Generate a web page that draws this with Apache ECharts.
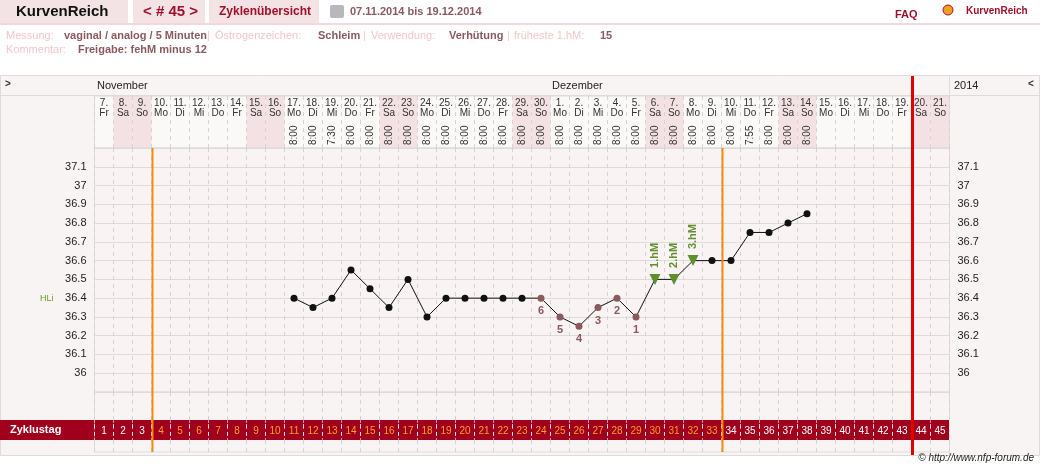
<!DOCTYPE html>
<html>
<head>
<meta charset="utf-8">
<script src="https://cdn.jsdelivr.net/npm/echarts@6/dist/echarts.min.js"></script>
<style>
  html, body { margin: 0; padding: 0; background: #fff; }
  #chart { width: 1040px; height: 469px; }
</style>
</head>
<body>
<div id="chart"></div>
<script>
// Kalendertage der Zyklusübersicht (07.11.2014 - 21.12.2014)
const dayNums = [7, 8, 9, 10, 11, 12, 13, 14, 15, 16, 17, 18, 19, 20, 21, 22, 23, 24, 25, 26, 27, 28, 29, 30,
    1, 2, 3, 4, 5, 6, 7, 8, 9, 10, 11, 12, 13, 14, 15, 16, 17, 18, 19, 20, 21];
const weekdays = ['Fr', 'Sa', 'So', 'Mo', 'Di', 'Mi', 'Do', 'Fr', 'Sa', 'So', 'Mo', 'Di', 'Mi', 'Do', 'Fr', 'Sa', 'So',
    'Mo', 'Di', 'Mi', 'Do', 'Fr', 'Sa', 'So', 'Mo', 'Di', 'Mi', 'Do', 'Fr', 'Sa', 'So', 'Mo', 'Di', 'Mi', 'Do', 'Fr',
    'Sa', 'So', 'Mo', 'Di', 'Mi', 'Do', 'Fr', 'Sa', 'So'];
const cycleDays = [1, 2, 3, 4, 5, 6, 7, 8, 9, 10, 11, 12, 13, 14, 15, 16, 17, 18, 19, 20, 21, 22, 23, 24, 25, 26, 27,
    28, 29, 30, 31, 32, 33, 34, 35, 36, 37, 38, 39, 40, 41, 42, 43, 44, 45];
const times = ['', '', '', '', '', '', '', '', '', '', '8:00', '8:00', '7:30', '8:00', '8:00', '8:00', '8:00', '8:00',
    '8:00', '8:00', '8:00', '8:00', '8:00', '8:00', '8:00', '8:00', '8:00', '8:00', '8:00', '8:00', '8:00', '8:00',
    '8:00', '8:00', '7:55', '8:00', '8:00', '8:00', '', '', '', '', '', '', ''];

// Temperaturen (Zyklustag 11 bis 38)
const tempDays = [11, 12, 13, 14, 15, 16, 17, 18, 19, 20, 21, 22, 23, 24, 25, 26, 27, 28, 29, 30, 31, 32, 33, 34, 35, 36, 37, 38];
const temps = [36.4, 36.35, 36.4, 36.55, 36.45, 36.35, 36.5, 36.3, 36.4, 36.4, 36.4, 36.4, 36.4, 36.4, 36.3, 36.25,
    36.35, 36.4, 36.3, 36.5, 36.5, 36.6, 36.6, 36.6, 36.75, 36.75, 36.8, 36.85];
const lowDays = [24, 25, 26, 27, 28, 29];
const lowLabels = ['6', '5', '4', '3', '2', '1'];
const hmDays = [30, 31, 32];
const hmLabels = ['1.hM', '2.hM', '3.hM'];
const hli = 36.4;
const coverlineDays = [3, 33];   // orange Linien nach Tag
const todayLine = 43;            // rote Linie nach Tag

const FONT = 'Liberation Sans, Arial, sans-serif';
const chart = echarts.init(document.getElementById('chart'));

const pointData = tempDays.map((d, i) => {
    const li = lowDays.indexOf(d);
    const hi = hmDays.indexOf(d);
    const item = { value: [d - 0.5, temps[i]] };
    if (li >= 0) {
        item.itemStyle = { color: '#8a5a5e' };
        item.label = { show: true, position: 'bottom', distance: 4, formatter: lowLabels[li],
            color: '#8a5a5e', fontWeight: 'bold', fontSize: 11, fontFamily: FONT };
    }
    if (hi >= 0) {
        item.symbol = 'triangle';
        item.symbolRotate = 180;
        item.symbolSize = 11;
        item.itemStyle = { color: '#5f8f2f' };
        item.label = { show: true, position: 'top', distance: 6, rotate: 90, align: 'left', verticalAlign: 'middle',
            formatter: hmLabels[hi], color: '#5f8f2f', fontWeight: 'bold', fontSize: 11, fontFamily: FONT };
    }
    return item;
});

function txt(x, y, text, color, opts) {
    return { type: 'text', x: x, y: y, style: Object.assign({ text: text, fill: color,
        font: '11px ' + FONT, textVerticalAlign: 'middle' }, (opts || {}).style || {}) };
}
const bold = (size) => ({ style: { font: 'bold ' + size + 'px ' + FONT } });

function baseGraphic() {
    return [
        // Kopfzeile
        { type: 'rect', shape: { x: 0, y: 0, width: 128, height: 23 }, style: { fill: '#f3e3e5' } },
        { type: 'rect', shape: { x: 133, y: 0, width: 72, height: 23 }, style: { fill: '#f3e3e5' } },
        { type: 'rect', shape: { x: 209, y: 0, width: 110, height: 23 }, style: { fill: '#f3e3e5' } },
        { type: 'rect', shape: { x: 0, y: 23, width: 1040, height: 2 }, style: { fill: '#f3d9db' } },
        txt(16, 12, 'KurvenReich', '#111', bold(15)),
        txt(143, 12, '< # 45 >', '#a0102a', bold(15)),
        txt(219, 12, 'Zyklenübersicht', '#a0102a', bold(12)),
        { type: 'rect', shape: { x: 330, y: 5, width: 14, height: 13, r: 2 }, style: { fill: '#b8b8bc' } },
        txt(350, 12, '07.11.2014 bis 19.12.2014', '#8a5a5e', bold(11)),
        txt(895, 15, 'FAQ', '#a0102a', bold(11)),
        { type: 'circle', shape: { cx: 948, cy: 10, r: 5 }, style: { fill: '#f0a020', stroke: '#a0102a' } },
        txt(966, 11, 'KurvenReich', '#a0102a', bold(10)),
        // Angaben
        txt(6, 36, 'Messung:', '#f4c6ca'),
        txt(64, 36, 'vaginal / analog / 5 Minuten', '#8a5a5e', bold(11)),
        txt(207, 36, '|', '#f4c6ca'),
        txt(215, 36, 'Östrogenzeichen:', '#f4c6ca'),
        txt(318, 36, 'Schleim', '#8a5a5e', bold(11)),
        txt(363, 36, '|', '#f4c6ca'),
        txt(371, 36, 'Verwendung:', '#f4c6ca'),
        txt(449, 36, 'Verhütung', '#8a5a5e', bold(11)),
        txt(507, 36, '|', '#f4c6ca'),
        txt(514, 36, 'früheste 1.hM:', '#f4c6ca'),
        txt(600, 36, '15', '#8a5a5e', bold(11)),
        txt(6, 50, 'Kommentar:', '#f4c6ca'),
        txt(78, 50, 'Freigabe: fehM minus 12', '#8a5a5e', bold(11)),
        // Rahmen und Monatszeile
        { type: 'rect', z: -10, shape: { x: 0.5, y: 75.5, width: 1039, height: 380 },
            style: { fill: '#f9f4f4', stroke: '#dcdcdc' } },
        { type: 'rect', z: -10, shape: { x: 94.5, y: 96, width: 855, height: 52 }, style: { fill: '#fbf8f8' } },
        { type: 'line', shape: { x1: 0, y1: 95.5, x2: 1040, y2: 95.5 }, style: { stroke: '#dcdcdc' } },
        { type: 'line', shape: { x1: 949.5, y1: 76, x2: 949.5, y2: 455 }, style: { stroke: '#dcdcdc' } },
        txt(5, 84, '>', '#333', bold(10)),
        txt(97, 86, 'November', '#222'),
        txt(552, 86, 'Dezember', '#222'),
        txt(954, 86, '2014', '#222'),
        txt(1028, 84, '<', '#333', bold(10)),
        { type: 'rect', shape: { x: 0, y: 420, width: 94.5, height: 20 }, style: { fill: '#a0001e' } },
        txt(10, 430, 'Zyklustag', '#fff', bold(11)),
        { type: 'text', x: 1034, y: 458, style: { text: '© http://www.nfp-forum.de', fill: '#222',
            font: 'italic 10px ' + FONT, textAlign: 'right', textVerticalAlign: 'middle' } }
    ];
}

const dashed = { show: true, interval: 0, lineStyle: { color: '#d9d2d2', type: [4, 4], width: 1 } };
const hidden = { show: false };
const valX = (grid) => ({ type: 'value', gridIndex: grid, min: 0, max: 45, interval: 1,
    axisLine: hidden, axisTick: hidden, axisLabel: hidden, splitLine: dashed });
const yLabel = (v) => (v >= 35.99 && v <= 37.11) ? String(+v.toFixed(1)) : '';

const option = {
    animation: false,
    textStyle: { fontFamily: FONT },
    graphic: baseGraphic(),
    grid: [
        { left: 94.5, right: 90.5, top: 148, height: 244, show: true, backgroundColor: '#f9f3f3', borderColor: '#dcdcdc' },
        { left: 94.5, right: 90.5, top: 96, height: 52, show: true, backgroundColor: 'transparent', borderColor: '#dcdcdc' },
        { left: 94.5, right: 90.5, top: 392, height: 60, show: true, backgroundColor: '#f9f4f4', borderColor: '#dcdcdc' },
        { left: 94.5, right: 90.5, top: 420, height: 20, show: true, backgroundColor: '#a0001e', borderWidth: 0 }
    ],
    xAxis: [
        valX(0),
        { type: 'category', gridIndex: 1, position: 'top', data: dayNums.map((d, i) => d + '.\n' + weekdays[i]),
            axisLine: hidden, axisTick: hidden, splitLine: dashed,
            axisLabel: { inside: true, interval: 0, margin: 2, fontSize: 10, lineHeight: 10, color: '#333',
                verticalAlign: 'top' } },
        { type: 'category', gridIndex: 1, position: 'bottom', data: times,
            axisLine: hidden, axisTick: hidden, splitLine: hidden,
            axisLabel: { inside: true, interval: 0, rotate: 90, margin: 3, fontSize: 10, color: '#333' } },
        valX(2),
        { type: 'category', gridIndex: 3, position: 'bottom', data: cycleDays,
            axisLine: hidden, axisTick: hidden,
            splitLine: { show: true, interval: 0, lineStyle: { color: 'rgba(255,255,255,0.55)', type: [3, 3] } },
            axisLabel: { inside: true, interval: 0, margin: 4, fontSize: 10,
                color: (v) => (+v >= 4 && +v <= 33) ? '#ffa020' : '#ffffff' } }
    ],
    yAxis: [
        { type: 'value', gridIndex: 0, min: 35.9, max: 37.2, interval: 0.1, position: 'left',
            axisLine: hidden, axisTick: hidden, splitLine: { lineStyle: { color: '#dcdcdc' } },
            axisLabel: { formatter: yLabel, fontSize: 11, color: '#222', margin: 8 } },
        { type: 'value', gridIndex: 0, min: 35.9, max: 37.2, interval: 0.1, position: 'right',
            axisLine: hidden, axisTick: hidden, splitLine: hidden,
            axisLabel: { formatter: yLabel, fontSize: 11, color: '#222', margin: 8 } },
        { type: 'value', gridIndex: 1, min: 0, max: 1, show: false },
        { type: 'value', gridIndex: 2, min: 0, max: 1, show: false },
        { type: 'value', gridIndex: 3, min: 0, max: 1, show: false }
    ],
    series: [
        {
            type: 'bar', xAxisIndex: 1, yAxisIndex: 2, barWidth: '100%', silent: true, z: -1,
            itemStyle: { color: '#f3e1e3' },
            data: weekdays.map(w => (w === 'Sa' || w === 'So') ? 1 : 0)
        },
        {
            type: 'line', xAxisIndex: 0, yAxisIndex: 0, data: pointData,
            symbol: 'circle', symbolSize: 7,
            lineStyle: { color: '#111', width: 1 }, itemStyle: { color: '#111' },
            markLine: {
                silent: true, symbol: 'none',
                lineStyle: { color: '#6a9a2a', type: 'solid', width: 1 },
                label: { show: false },
                data: [[{ coord: [-1.3, hli] }, { coord: [45, hli] }]]
            },
            z: 5
        }
    ]
};
chart.setOption(option);

// Senkrechte Markierungslinien über alle Bereiche
const toX = (v) => Math.round(chart.convertToPixel({ gridIndex: 0 }, [v, 36])[0]) + 0.5;
const g = baseGraphic();
coverlineDays.forEach(d => {
    const x = toX(d);
    g.push({ type: 'line', z: 10, shape: { x1: x, y1: 148, x2: x, y2: 452 }, style: { stroke: '#f58a10', lineWidth: 2 } });
});
const rx = toX(todayLine);
g.push({ type: 'line', z: 11, shape: { x1: rx, y1: 76, x2: rx, y2: 455 }, style: { stroke: '#e00000', lineWidth: 3 } });
g.push({ type: 'text', z: 12, x: 40, y: 299, style: { text: 'HLi', fill: '#6a9a2a', font: '9px ' + FONT,
    textVerticalAlign: 'middle' } });
chart.setOption({ graphic: g });
</script>
</body>
</html>
